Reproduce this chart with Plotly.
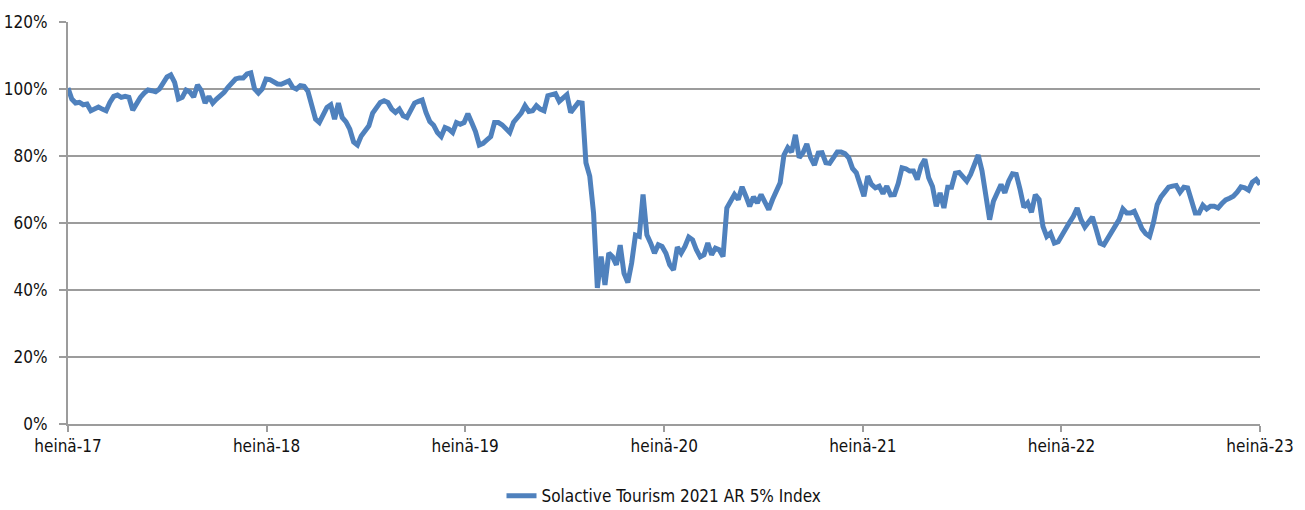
import pandas as pd
import plotly.graph_objects as go

series_name = "Solactive Tourism 2021 AR 5% Index"
start_date = "2017-07-01"

# weekly index level (%)
values = [
    100.3, 97, 95.8, 96, 95.3, 95.5, 93.5, 94, 94.6, 94, 93.5, 96, 97.8, 98.2, 97.5, 97.8, 97.5, 93.7, 96, 97.5,
    98.8, 99.7, 99.5, 99.2, 100, 101.5, 103.6, 104.2, 102, 97, 97.5, 99.7, 99.1, 97.6, 101.2, 99.5, 95.8, 97.8, 95.8, 97,
    98, 99, 100.5, 102, 103, 103.3, 103.3, 104.5, 104.8, 100, 98.8, 100, 103, 102.8, 102.1, 101.5, 101.4, 102, 102.4, 100.5,
    100, 101, 100.8, 99.3, 95, 91, 90, 92.5, 94.5, 95.3, 91, 95.8, 91.5, 90.2, 88, 84.2, 83.3, 86, 87.5, 89,
    92.8, 94.5, 96, 96.5, 96, 94, 93, 94, 92, 91.5, 93.8, 95.8, 96.3, 96.7, 93, 90.3, 89.2, 87, 85.8, 88.5,
    88, 87, 90, 89.5, 90, 92.6, 90, 87.3, 83.3, 83.8, 84.8, 85.8, 90, 90, 89.3, 88, 87, 90.1, 91.5, 92.8,
    95, 93.3, 93.5, 95, 94, 93.5, 98, 98.5, 98.6, 96.3, 97.5, 98.3, 93, 94.5, 96, 95.8, 78, 74, 63, 40.6,
    50, 41.5, 51, 49.9, 47.5, 53.4, 45, 42.2, 48, 56.4, 56, 68.5, 56.5, 54, 51, 53.5, 53, 51, 47.5, 46,
    52.8, 51, 53, 55.8, 55, 52, 49.9, 50.5, 54, 50.5, 52.5, 52, 50, 64.5, 66.2, 68.5, 67, 70.8, 68, 65,
    67.8, 66, 68.5, 66.5, 64, 67, 69.6, 72, 80.3, 82.5, 81.2, 86.3, 79.5, 81, 83.6, 79.5, 77.3, 80.9, 81, 78,
    77.8, 79.5, 81.2, 81.2, 80.7, 79.5, 76.3, 75, 71.5, 68, 74, 71.5, 70.5, 71, 68.8, 71, 68.4, 68.5, 71.8, 76.5,
    76.2, 75.5, 75.5, 73, 77, 79, 73.5, 70.9, 65, 69, 64.5, 70.7, 70.7, 74.9, 75.1, 73.5, 72.5, 74.5, 77.5, 80.3,
    75.6, 68, 61, 66.5, 68.8, 71.5, 69, 72.5, 74.7, 74.5, 70, 64.7, 66, 63.2, 68.4, 67, 59, 56, 57, 54,
    54.4, 56.5, 58.8, 60.2, 62, 64.5, 61, 58.8, 60.3, 61.8, 58, 54, 53.5, 55.5, 57.5, 59, 61, 64.2, 63, 63,
    63.5, 61, 58.3, 56.8, 56, 60, 65.5, 67.8, 69.5, 70.7, 71, 71.2, 69.2, 70.7, 70.5, 66.5, 63, 63, 65.3, 64.2,
    65, 65, 64.5, 65.8, 66.9, 67.4, 68, 69.2, 70.8, 70.5, 69.8, 72.2, 73, 71.5,
]

tick_dates = ["2017-07-01", "2018-07-01", "2019-07-01", "2020-07-01", "2021-07-01", "2022-07-01", "2023-07-01"]
tick_labels = ["heinä-17", "heinä-18", "heinä-19", "heinä-20", "heinä-21", "heinä-22", "heinä-23"]
y_ticks = [0, 20, 40, 60, 80, 100, 120]
y_tick_labels = ["0%", "20%", "40%", "60%", "80%", "100%", "120%"]

dates = pd.date_range(start_date, periods=len(values), freq="7D")

FONT = "DejaVu Sans Condensed, Liberation Sans Narrow, sans-serif"
GRID = "#9c9c9c"

fig = go.Figure()
fig.add_trace(go.Scatter(
    x=dates, y=values, mode="lines", name=series_name,
    line=dict(color="#4f81bd", width=5),
))

fig.update_layout(
    width=1305, height=510,
    margin=dict(l=68, r=45, t=22, b=86),
    paper_bgcolor="white", plot_bgcolor="white",
    font=dict(family=FONT, size=17, color="#111111"),
    showlegend=True,
    legend=dict(orientation="h", x=0.5, xanchor="center",
                yref="container", y=0.027, yanchor="middle",
                font=dict(family=FONT, size=17, color="#111111")),
    xaxis=dict(
        type="date", range=["2017-07-01", "2023-07-01"],
        tickvals=tick_dates, ticktext=tick_labels,
        showgrid=False, zeroline=False, automargin=False,
        showline=True, linecolor=GRID, linewidth=2,
        ticks="outside", ticklen=6, tickwidth=2, tickcolor=GRID,
    ),
    yaxis=dict(
        range=[0, 120], tickvals=y_ticks, ticktext=y_tick_labels,
        showgrid=True, gridcolor=GRID, gridwidth=2,
        zeroline=False, automargin=False,
        showline=True, linecolor=GRID, linewidth=2,
        ticks="outside", ticklen=7, tickwidth=2, tickcolor=GRID,
        ticklabelstandoff=8,
    ),
)

page_fix = (
    "document.body.style.margin='0';"
    "document.body.style.overflow='hidden';"
    "var gd=document.getElementById('{plot_id}');"
    "Plotly.relayout(gd,{width:1305,height:510});"
)

fig.write_html("out.html", post_script=page_fix, config={"displayModeBar": False})
